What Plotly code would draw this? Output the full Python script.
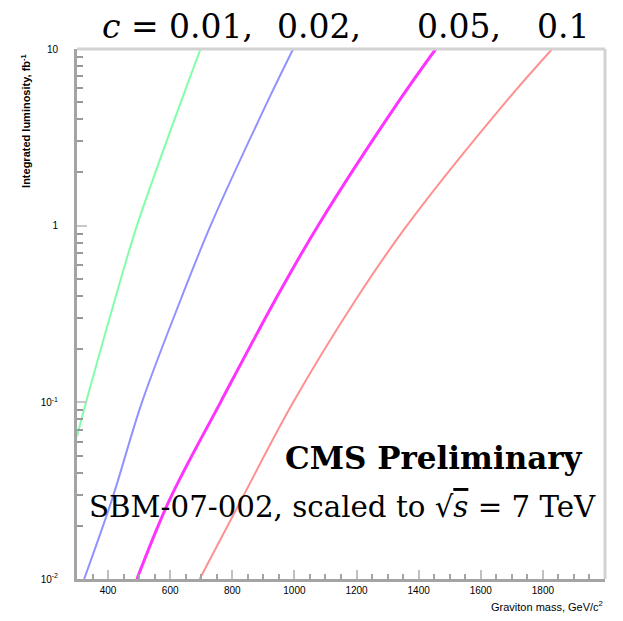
import plotly.graph_objects as go

# graviton mass (GeV/c^2) vs integrated luminosity (fb^-1)
mass_001 = [300, 329, 422, 493, 637, 698]
lumi_001 = [0.064, 0.1, 0.382, 1.0, 5.15, 10]

mass_002 = [323, 413, 509, 634, 730, 916, 996]
lumi_002 = [0.01, 0.0283, 0.1, 0.382, 1.0, 5.15, 10]

mass_005 = [493, 599, 762, 939, 1076, 1339, 1455]
lumi_005 = [0.01, 0.0283, 0.1, 0.382, 1.0, 5.15, 10]

mass_01 = [695, 830, 996, 1198, 1362, 1686, 1830]
lumi_01 = [0.01, 0.0283, 0.1, 0.382, 1.0, 5.15, 10]

x_ticks = [400, 600, 800, 1000, 1200, 1400, 1600, 1800, 2000]
y_ticks = [0.01, 0.1, 1, 10]
y_ticktext = ["10<sup>-2</sup>", "10<sup>-1</sup>", "1", "10"]

AXIS_GREY = "#a4a4a4"
FRAME_GREY = "#d2d2d2"
SERIF = "DejaVu Serif"

fig = go.Figure()

curves = [
    (mass_001, lumi_001, "#80ffa8", 2),
    (mass_002, lumi_002, "#8f92ff", 2),
    (mass_005, lumi_005, "#ff33ff", 3),
    (mass_01, lumi_01, "#ff9090", 2),
]
for m, l, col, w in curves:
    fig.add_trace(go.Scatter(x=m, y=l, mode="lines", line=dict(color=col, width=w, shape="spline"),
                             showlegend=False, hoverinfo="skip"))

# page body has an 8px margin all round, so keep the figure inside the window
fig.update_layout(
    width=607, height=605,
    margin=dict(l=69, r=10, t=41, b=34),
    paper_bgcolor="white", plot_bgcolor="white",
    font=dict(family="Liberation Sans", size=10, color="black"),
)

fig.update_xaxes(
    range=[300, 2000], showgrid=False, zeroline=False,
    showline=True, linecolor=AXIS_GREY, linewidth=3,
    ticks="inside", ticklen=9, tickwidth=2, tickcolor="#c0c0c0",
    tickvals=x_ticks, tickfont=dict(size=10),
    minor=dict(ticks="inside", ticklen=5, tickwidth=2, tickcolor=AXIS_GREY, dtick=50, showgrid=False),
)
fig.update_yaxes(
    type="log", range=[-2, 1], showgrid=False, zeroline=False,
    showline=True, linecolor=AXIS_GREY, linewidth=3,
    ticks="inside", ticklen=10, tickwidth=2, tickcolor="#c8c8c8",
    dtick=1, tickmode="linear", tickfont=dict(size=10),
    labelalias={"0.01": "10<sup>-2</sup>", "0.1": "10<sup>-1</sup>"},
    ticklabelstandoff=14,
    minor=dict(ticks="inside", ticklen=6, tickwidth=2, tickcolor="#999999", showgrid=False,
               tickmode="linear", dtick="D1"),
)

# light frame on top and right
fig.add_shape(type="line", xref="paper", yref="paper", x0=0, x1=1, y0=1, y1=1,
              line=dict(color=FRAME_GREY, width=3))
fig.add_shape(type="line", xref="paper", yref="paper", x0=1, x1=1, y0=0, y1=1,
              line=dict(color=FRAME_GREY, width=3))

# coupling labels along the top
top_labels = [("<i>c</i> = 0.01,", 0.043), ("0.02,", 0.375), ("0.05,", 0.64), ("0.1", 0.868)]
for txt, xp in top_labels:
    fig.add_annotation(text=txt, xref="paper", yref="paper", x=xp, y=1.043,
                       xanchor="left", yanchor="middle", showarrow=False,
                       font=dict(family=SERIF, size=33, color="black"))

fig.add_annotation(text="<b>CMS Preliminary</b>", xref="paper", yref="paper", x=0.962, y=0.228,
                   xanchor="right", yanchor="middle", showarrow=False,
                   font=dict(family=SERIF, size=31, color="black"))
fig.add_annotation(text="SBM-07-002, scaled to √<span style='text-decoration:overline'><i>s</i></span> = 7 TeV",
                   xref="paper", yref="paper", x=0.987, y=0.136,
                   xanchor="right", yanchor="middle", showarrow=False,
                   font=dict(family=SERIF, size=29.3, color="black"))

fig.add_annotation(text="<b>Integrated luminosity, fb<sup>-1</sup></b>", xref="paper", yref="paper",
                   x=-0.098, y=0.995, xanchor="center", yanchor="top", textangle=-90,
                   showarrow=False, font=dict(family="Liberation Sans", size=11, color="black"))
fig.add_annotation(text="Graviton mass, GeV/c<sup>2</sup>", xref="paper", yref="paper",
                   x=1.0, y=-0.05, xanchor="right", yanchor="middle",
                   showarrow=False, font=dict(family="Liberation Sans", size=11, color="black"))

fig.write_html("out.html")
